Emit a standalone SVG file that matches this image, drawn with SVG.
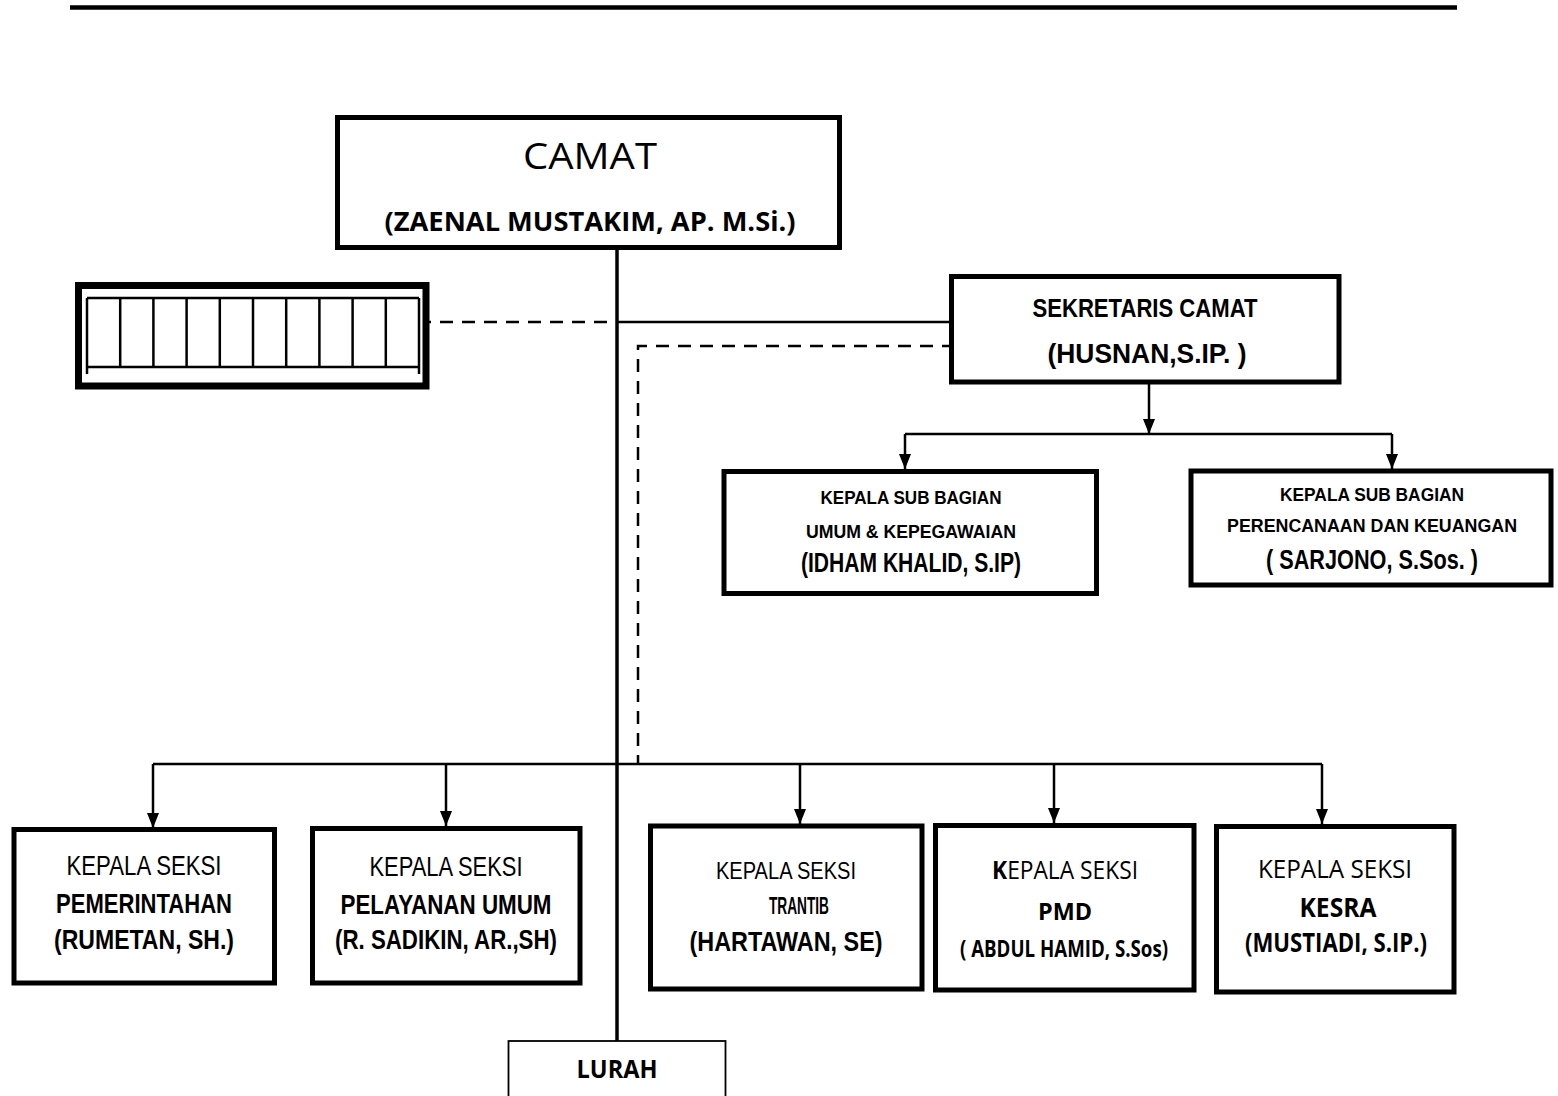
<svg xmlns="http://www.w3.org/2000/svg" width="1558" height="1096" viewBox="0 0 1558 1096">
<style>
.box{fill:#fff;stroke:#000;stroke-width:5}
.ln{fill:none;stroke:#000;stroke-width:2.5}
.dash{fill:none;stroke:#000;stroke-width:2.5;stroke-dasharray:13 9}
.n{font-family:"Liberation Sans",Arial,sans-serif;text-anchor:middle;fill:#000}
.c{font-family:"Open Sans","Noto Sans",sans-serif;text-anchor:middle;fill:#000}
.b{font-weight:bold}
</style>
<defs>
<marker id="arr" viewBox="0 0 15 12" refX="15" refY="6" markerWidth="15" markerHeight="12" markerUnits="userSpaceOnUse" orient="auto">
<path d="M0,0 L15,6 L0,12 Z" fill="#000"/>
</marker>
</defs>
<rect width="1558" height="1096" fill="#fff"/>
<line x1="70" y1="7.5" x2="1457" y2="7.5" stroke="#000" stroke-width="4.5"/>

<g id="connectors">
<line x1="617" y1="248" x2="617" y2="1041" stroke="#000" stroke-width="3.5"/>
<line class="dash" x1="418" y1="322" x2="617" y2="322" stroke-width="3"/>
<line class="ln" x1="617" y1="322" x2="951" y2="322" stroke-width="3"/>
<polyline class="dash" points="955,346 638,346 638,763"/>
<line class="ln" x1="153" y1="764" x2="1322" y2="764"/>
<line class="ln" x1="153" y1="764" x2="153" y2="828" marker-end="url(#arr)"/>
<line class="ln" x1="446" y1="764" x2="446" y2="826" marker-end="url(#arr)"/>
<line class="ln" x1="800" y1="764" x2="800" y2="824" marker-end="url(#arr)"/>
<line class="ln" x1="1054" y1="764" x2="1054" y2="823" marker-end="url(#arr)"/>
<line class="ln" x1="1322" y1="764" x2="1322" y2="824" marker-end="url(#arr)"/>
<line class="ln" x1="1149" y1="384" x2="1149" y2="434" marker-end="url(#arr)"/>
<line class="ln" x1="905" y1="434" x2="1392" y2="434"/>
<line class="ln" x1="905" y1="434" x2="905" y2="469" marker-end="url(#arr)"/>
<line class="ln" x1="1392" y1="434" x2="1392" y2="469" marker-end="url(#arr)"/>
</g>

<g id="camat">
<rect class="box" x="337.5" y="117.5" width="502" height="130"/>
<text class="c" x="590" y="169" font-size="37" textLength="134" lengthAdjust="spacingAndGlyphs">CAMAT</text>
<text class="c b" x="590" y="231" font-size="26" textLength="411" lengthAdjust="spacingAndGlyphs">(ZAENAL MUSTAKIM, AP. M.Si.)</text>
</g>

<g id="left-box">
<rect x="78.5" y="285.5" width="347.5" height="100.5" fill="#fff" stroke="#000" stroke-width="7"/>
<g stroke="#000" stroke-width="2.5" fill="none">
<line x1="87" y1="298" x2="419" y2="298"/>
<line x1="87" y1="367" x2="419" y2="367"/>
<line x1="87" y1="298" x2="87" y2="374"/>
<line x1="419" y1="298" x2="419" y2="374"/>
<line x1="120.2" y1="298" x2="120.2" y2="367"/>
<line x1="153.4" y1="298" x2="153.4" y2="367"/>
<line x1="186.6" y1="298" x2="186.6" y2="367"/>
<line x1="219.8" y1="298" x2="219.8" y2="367"/>
<line x1="253" y1="298" x2="253" y2="367"/>
<line x1="286.2" y1="298" x2="286.2" y2="367"/>
<line x1="319.4" y1="298" x2="319.4" y2="367"/>
<line x1="352.6" y1="298" x2="352.6" y2="367"/>
<line x1="385.8" y1="298" x2="385.8" y2="367"/>
</g>
</g>

<g id="sekretaris">
<rect class="box" x="951.5" y="276.5" width="387.5" height="105.5"/>
<text class="n b" x="1145" y="317" font-size="25" textLength="225" lengthAdjust="spacingAndGlyphs">SEKRETARIS CAMAT</text>
<text class="n b" x="1147" y="363" font-size="28" textLength="199" lengthAdjust="spacingAndGlyphs">(HUSNAN,S.IP. )</text>
</g>

<g id="subbag-umum">
<rect class="box" x="724" y="471.5" width="372.5" height="122"/>
<text class="n b" x="911" y="504" font-size="19" textLength="181" lengthAdjust="spacingAndGlyphs">KEPALA SUB BAGIAN</text>
<text class="n b" x="911" y="538" font-size="19" textLength="210" lengthAdjust="spacingAndGlyphs">UMUM &amp; KEPEGAWAIAN</text>
<text class="n b" x="911" y="572" font-size="27" textLength="220" lengthAdjust="spacingAndGlyphs">(IDHAM KHALID, S.IP)</text>
</g>

<g id="subbag-keuangan">
<rect class="box" x="1191" y="471" width="360" height="114"/>
<text class="n b" x="1372" y="501" font-size="19" textLength="184" lengthAdjust="spacingAndGlyphs">KEPALA SUB BAGIAN</text>
<text class="n b" x="1372" y="532" font-size="19" textLength="290" lengthAdjust="spacingAndGlyphs">PERENCANAAN  DAN KEUANGAN</text>
<text class="n b" x="1372" y="569" font-size="27" textLength="212" lengthAdjust="spacingAndGlyphs">( SARJONO, S.Sos. )</text>
</g>

<g id="seksi-pemerintahan">
<rect class="box" x="14" y="829.5" width="260.5" height="153.5"/>
<text class="n" x="144" y="875" font-size="28" textLength="155" lengthAdjust="spacingAndGlyphs">KEPALA SEKSI</text>
<text class="n b" x="144" y="913" font-size="28" textLength="176" lengthAdjust="spacingAndGlyphs">PEMERINTAHAN</text>
<text class="n b" x="144" y="949" font-size="28" textLength="180" lengthAdjust="spacingAndGlyphs">(RUMETAN, SH.)</text>
</g>

<g id="seksi-pelayanan">
<rect class="box" x="312.5" y="828.5" width="267.5" height="154.5"/>
<text class="n" x="446" y="876" font-size="28" textLength="153" lengthAdjust="spacingAndGlyphs">KEPALA SEKSI</text>
<text class="n b" x="446" y="914" font-size="28" textLength="211" lengthAdjust="spacingAndGlyphs">PELAYANAN UMUM</text>
<text class="n b" x="446" y="949" font-size="28" textLength="222" lengthAdjust="spacingAndGlyphs">(R. SADIKIN, AR.,SH)</text>
</g>

<g id="seksi-trantib">
<rect class="box" x="650.5" y="826" width="271.5" height="163"/>
<text class="n" x="786" y="879" font-size="24" textLength="140" lengthAdjust="spacingAndGlyphs">KEPALA SEKSI</text>
<text class="n b" x="799" y="914" font-size="23" textLength="60" lengthAdjust="spacingAndGlyphs">TRANTIB</text>
<text class="n b" x="786" y="951" font-size="28" textLength="193" lengthAdjust="spacingAndGlyphs">(HARTAWAN, SE)</text>
</g>

<g id="seksi-pmd">
<rect class="box" x="935.5" y="825.5" width="258.5" height="164.5"/>
<text class="c" x="1065" y="879" font-size="25" textLength="146" lengthAdjust="spacingAndGlyphs"><tspan font-weight="bold">K</tspan>EPALA SEKSI</text>
<text class="c b" x="1065" y="920" font-size="24" textLength="54" lengthAdjust="spacingAndGlyphs">PMD</text>
<text class="c b" x="1064" y="957" font-size="23" textLength="208" lengthAdjust="spacingAndGlyphs">( ABDUL HAMID, S.Sos)</text>
</g>

<g id="seksi-kesra">
<rect class="box" x="1216.5" y="826.5" width="237.5" height="165.5"/>
<text class="c" x="1335" y="878" font-size="26" textLength="154" lengthAdjust="spacingAndGlyphs">KEPALA SEKSI</text>
<text class="c b" x="1338" y="917" font-size="27" textLength="77" lengthAdjust="spacingAndGlyphs">KESRA</text>
<text class="c b" x="1336" y="952" font-size="26" textLength="182" lengthAdjust="spacingAndGlyphs">(MUSTIADI, S.IP.)</text>
</g>

<g id="lurah">
<rect x="508.5" y="1041" width="217" height="70" fill="#fff" stroke="#000" stroke-width="1.8"/>
<text class="c b" x="617" y="1078" font-size="25" textLength="81" lengthAdjust="spacingAndGlyphs">LURAH</text>
</g>
</svg>
